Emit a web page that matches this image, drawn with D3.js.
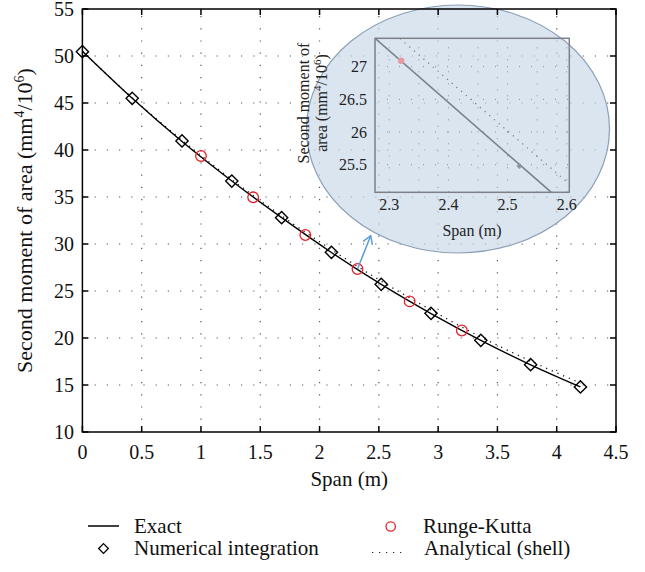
<!DOCTYPE html>
<html>
<head>
<meta charset="utf-8">
<script src="https://cdn.jsdelivr.net/npm/d3@7"></script>
<style>
  body { margin: 0; background: #fff; }
</style>
</head>
<body>
<svg id="chart" width="645" height="572"></svg>
<script>
// main plot data
var spanNum = [0, 0.42, 0.84, 1.26, 1.68, 2.1, 2.52, 2.94, 3.36, 3.78, 4.2];
var numValues = [50.46, 45.5, 40.96, 36.7, 32.8, 29.12, 25.71, 22.63, 19.75, 17.16, 14.79];
var exactValues = [50.5, 45.5, 40.9, 36.7, 32.8, 29.1, 25.7, 22.6, 19.75, 17.15, 14.8];
var shellValues = [50.5, 45.55, 41.05, 36.85, 33.0, 29.4, 26.05, 22.98, 20.1, 17.55, 15.2];
var spanRK = [1.0, 1.44, 1.88, 2.32, 2.76, 3.2];
var rkValues = [39.36, 34.97, 30.96, 27.34, 23.9, 20.8];

var xTicks = [0, 0.5, 1, 1.5, 2, 2.5, 3, 3.5, 4, 4.5];
var yTicks = [10, 15, 20, 25, 30, 35, 40, 45, 50, 55];

// inset (zoom around 2.3 - 2.6 m)
var insetExactSpan = [2.27, 2.58];
var insetExactValues = [27.48, 25.03];
var insetShellSpan = [2.318, 2.60];
var insetShellValues = [27.43, 25.24];
var insetRKSpan = [2.32];
var insetRKValues = [27.09];
var insetNumSpan = [2.52];
var insetNumValues = [25.48];
var insetXTicks = [2.3, 2.35, 2.4, 2.45, 2.5, 2.55, 2.6];
var insetYTicks = [25.5, 26, 26.5, 27];

var svg = d3.select("#chart")
    .attr("font-family", "'Liberation Serif', 'Times New Roman', Tinos, Times, 'DejaVu Serif', serif");

var m = { left: 82.4, top: 9, right: 616, bottom: 432 };

var x = d3.scaleLinear().domain([0, 4.5]).range([m.left, m.right]);
var y = d3.scaleLinear().domain([10, 55]).range([m.bottom, m.top]);

var red = "#e8202a";

// grid
var grid = svg.append("g").attr("class", "grid")
    .attr("stroke", "#555").attr("stroke-width", 1.2).attr("stroke-dasharray", "1.2,11");
grid.selectAll("line.gx")
    .data(xTicks.slice(1, -1))
  .enter().append("line")
    .attr("x1", d => x(d)).attr("x2", d => x(d))
    .attr("y1", m.bottom).attr("y2", m.top);
grid.selectAll("line.gy")
    .data(yTicks.slice(1, -1))
  .enter().append("line")
    .attr("y1", d => y(d)).attr("y2", d => y(d))
    .attr("x1", m.left).attr("x2", m.right);

var exactData = spanNum.map((s, i) => [s, exactValues[i]]);
var shellData = spanNum.map((s, i) => [s, shellValues[i]]);

var line = d3.line()
    .x(d => x(d[0])).y(d => y(d[1]))
    .curve(d3.curveMonotoneX);

svg.append("path")
    .datum(shellData)
    .attr("d", line)
    .attr("fill", "none").attr("stroke", "#111")
    .attr("stroke-width", 1.3).attr("stroke-dasharray", "1.2,5");

svg.append("path")
    .datum(exactData)
    .attr("d", line)
    .attr("fill", "none").attr("stroke", "#000").attr("stroke-width", 1.4);

var diamond = d3.symbol().type(d3.symbolDiamond2).size(96);

svg.append("g").selectAll("path")
    .data(spanNum.map((s, i) => [s, numValues[i]]))
  .enter().append("path")
    .attr("d", diamond)
    .attr("transform", d => "translate(" + x(d[0]) + "," + y(d[1]) + ")")
    .attr("fill", "none").attr("stroke", "#000").attr("stroke-width", 1.4);

svg.append("g").selectAll("circle")
    .data(spanRK.map((s, i) => [s, rkValues[i]]))
  .enter().append("circle")
    .attr("cx", d => x(d[0])).attr("cy", d => y(d[1])).attr("r", 5.3)
    .attr("fill", "none").attr("stroke", red).attr("stroke-width", 1.3);

// arrow from the highlighted point to the magnifier
var ax0 = x(spanRK[3]), ay0 = y(rkValues[3]);
var ax1 = ax0 + 13.2, ay1 = ay0 - 33.3;
var dx = ax1 - ax0, dy = ay1 - ay0, len = Math.sqrt(dx * dx + dy * dy);
var ux = dx / len, uy = dy / len;
var arrow = svg.append("g").attr("stroke", "#5b9bd5").attr("stroke-width", 1.5).attr("fill", "none");
arrow.append("line").attr("x1", ax0).attr("y1", ay0).attr("x2", ax1).attr("y2", ay1);
arrow.append("path")
    .attr("d", "M" + (ax1 - 8 * ux - 5 * uy) + "," + (ay1 - 8 * uy + 5 * ux) +
               "L" + ax1 + "," + ay1 +
               "L" + (ax1 - 8 * ux + 5 * uy) + "," + (ay1 - 8 * uy - 5 * ux));

// magnifier ellipse
svg.append("ellipse")
    .attr("cx", 458).attr("cy", 129).attr("rx", 151.5).attr("ry", 124)
    .attr("fill", "rgb(200,216,233)").attr("fill-opacity", 0.68)
    .attr("stroke", "#8c9fb6").attr("stroke-width", 1.2);

// inset plot
var ix = d3.scaleLinear().domain([2.2758, 2.6044]).range([375, 569.3]);
var iy = d3.scaleLinear().domain([25.078, 27.434]).range([192.3, 38.3]);

var igrid = svg.append("g")
    .attr("stroke", "#8a8f96").attr("stroke-width", 1).attr("stroke-dasharray", "1,11");
igrid.selectAll("line.ix")
    .data(insetXTicks)
  .enter().append("line")
    .attr("x1", d => ix(d)).attr("x2", d => ix(d))
    .attr("y1", iy.range()[0]).attr("y2", iy.range()[1]);
igrid.selectAll("line.iy")
    .data(insetYTicks)
  .enter().append("line")
    .attr("y1", d => iy(d)).attr("y2", d => iy(d))
    .attr("x1", ix.range()[0]).attr("x2", ix.range()[1]);

svg.append("clipPath").attr("id", "insetClip")
  .append("rect")
    .attr("x", 375).attr("y", 38.3).attr("width", 194.3).attr("height", 154);

var iline = d3.line().x(d => ix(d[0])).y(d => iy(d[1]));
var inset = svg.append("g").attr("clip-path", "url(#insetClip)");

inset.append("path")
    .datum(insetShellSpan.map((s, i) => [s, insetShellValues[i]]))
    .attr("d", iline)
    .attr("fill", "none").attr("stroke", "#777").attr("stroke-width", 1.2)
    .attr("stroke-dasharray", "1.2,5");
inset.append("path")
    .datum(insetExactSpan.map((s, i) => [s, insetExactValues[i]]))
    .attr("d", iline)
    .attr("fill", "none").attr("stroke", "#7a7f86").attr("stroke-width", 1.6);
inset.selectAll("circle")
    .data(insetRKSpan.map((s, i) => [s, insetRKValues[i]]))
  .enter().append("circle")
    .attr("cx", d => ix(d[0])).attr("cy", d => iy(d[1])).attr("r", 3.2)
    .attr("fill", "#e39aa0");
inset.selectAll("path.idia")
    .data(insetNumSpan.map((s, i) => [s, insetNumValues[i]]))
  .enter().append("path")
    .attr("d", d3.symbol().type(d3.symbolDiamond2).size(22))
    .attr("transform", d => "translate(" + ix(d[0]) + "," + iy(d[1]) + ")")
    .attr("fill", "#8d9299");

svg.append("rect")
    .attr("x", 375).attr("y", 38.3).attr("width", 194.3).attr("height", 154)
    .attr("fill", "none").attr("stroke", "#7d8086").attr("stroke-width", 1.5);

var ilabels = svg.append("g").attr("font-size", 16).attr("fill", "#222");
ilabels.selectAll("text.itx")
    .data(insetXTicks.filter((d, i) => i % 2 == 0))
  .enter().append("text")
    .attr("x", d => ix(d)).attr("y", 210)
    .attr("text-anchor", "middle")
    .text(d => d3.format(".1f")(d));
ilabels.selectAll("text.ity")
    .data(insetYTicks)
  .enter().append("text")
    .attr("x", 367).attr("y", d => iy(d) + 5.5)
    .attr("text-anchor", "end")
    .text(d => d3.format("~g")(d));
ilabels.append("text")
    .attr("x", 472).attr("y", 236).attr("text-anchor", "middle")
    .text("Span (m)");

var iyl = ilabels.append("text")
    .attr("transform", "translate(309,103) rotate(-90)")
    .attr("text-anchor", "middle");
iyl.append("tspan").attr("x", 0).attr("y", 0).text("Second moment of");
var iyl2 = iyl.append("tspan").attr("x", 0).attr("y", 18);
iyl2.text("area (mm");
iyl.append("tspan").attr("dy", -6).attr("font-size", 11).text("4");
iyl.append("tspan").attr("dy", 6).text("/10");
iyl.append("tspan").attr("dy", -6).attr("font-size", 11).text("6");
iyl.append("tspan").attr("dy", 6).text(")");

// main frame and ticks
var frame = svg.append("g").attr("stroke", "#000").attr("stroke-width", 1.5).attr("fill", "none");
frame.append("rect")
    .attr("x", m.left).attr("y", m.top)
    .attr("width", m.right - m.left).attr("height", m.bottom - m.top);
var tl = 6;
frame.selectAll("line.tb")
    .data(xTicks)
  .enter().append("line")
    .attr("x1", d => x(d)).attr("x2", d => x(d))
    .attr("y1", m.bottom).attr("y2", m.bottom - tl);
frame.selectAll("line.tt")
    .data(xTicks)
  .enter().append("line")
    .attr("x1", d => x(d)).attr("x2", d => x(d))
    .attr("y1", m.top).attr("y2", m.top + tl);
frame.selectAll("line.tl")
    .data(yTicks)
  .enter().append("line")
    .attr("y1", d => y(d)).attr("y2", d => y(d))
    .attr("x1", m.left).attr("x2", m.left + tl);
frame.selectAll("line.tr")
    .data(yTicks)
  .enter().append("line")
    .attr("y1", d => y(d)).attr("y2", d => y(d))
    .attr("x1", m.right).attr("x2", m.right - tl);

var labels = svg.append("g").attr("font-size", 20).attr("fill", "#111");
labels.selectAll("text.xt")
    .data(xTicks)
  .enter().append("text")
    .attr("x", d => x(d)).attr("y", 459)
    .attr("text-anchor", "middle")
    .text(d => d3.format("~g")(d));
labels.selectAll("text.yt")
    .data(yTicks)
  .enter().append("text")
    .attr("x", 74).attr("y", d => y(d) + 6.8)
    .attr("text-anchor", "end")
    .text(d => d);

labels.append("text")
    .attr("x", (m.left + m.right) / 2).attr("y", 486)
    .attr("text-anchor", "middle").attr("font-size", 21)
    .text("Span (m)");

var yl = labels.append("text")
    .attr("transform", "translate(32," + ((m.top + m.bottom) / 2) + ") rotate(-90)")
    .attr("text-anchor", "middle").attr("font-size", 22);
yl.append("tspan").text("Second moment of area (mm");
yl.append("tspan").attr("dy", -8).attr("font-size", 14).text("4");
yl.append("tspan").attr("dy", 8).text("/10");
yl.append("tspan").attr("dy", -8).attr("font-size", 14).text("6");
yl.append("tspan").attr("dy", 8).text(")");

// legend
var leg = svg.append("g").attr("font-size", 21).attr("fill", "#111");
leg.append("line")
    .attr("x1", 88).attr("x2", 119).attr("y1", 526).attr("y2", 526)
    .attr("stroke", "#000").attr("stroke-width", 1.5);
leg.append("text").attr("x", 134).attr("y", 533).text("Exact");
leg.append("path")
    .attr("d", d3.symbol().type(d3.symbolDiamond2).size(60))
    .attr("transform", "translate(103.5,548.5)")
    .attr("fill", "none").attr("stroke", "#000").attr("stroke-width", 1.3);
leg.append("text").attr("x", 134).attr("y", 555).text("Numerical integration");

leg.append("circle")
    .attr("cx", 390.7).attr("cy", 526.5).attr("r", 4.7)
    .attr("fill", "none").attr("stroke", red).attr("stroke-width", 1.3);
leg.append("text").attr("x", 423).attr("y", 533).text("Runge-Kutta");
leg.append("line")
    .attr("x1", 372).attr("x2", 407).attr("y1", 552.5).attr("y2", 552.5)
    .attr("stroke", "#222").attr("stroke-width", 1.2).attr("stroke-dasharray", "1.2,5.8");
leg.append("text").attr("x", 424).attr("y", 555).text("Analytical (shell)");
</script>
</body>
</html>
